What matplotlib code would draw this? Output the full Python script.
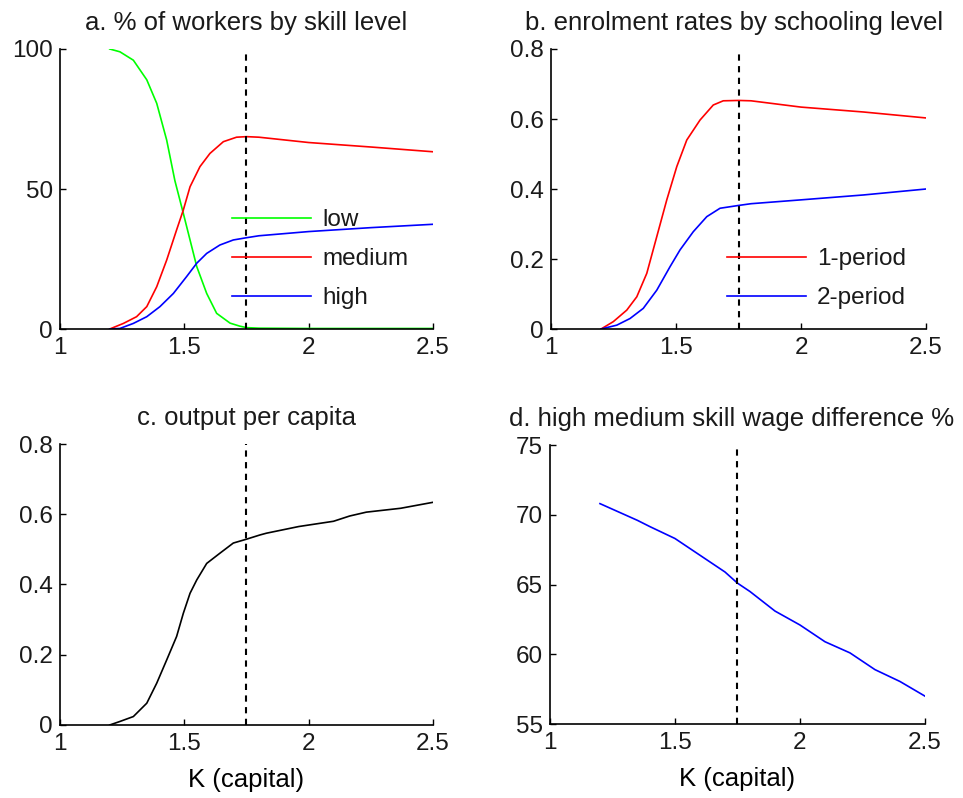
import matplotlib
matplotlib.use("Agg")
import matplotlib.pyplot as plt

plt.rcParams["font.family"] = ["Liberation Sans", "DejaVu Sans"]
plt.rcParams["text.color"] = "#1a1a1a"
plt.rcParams["xtick.labelcolor"] = "#1a1a1a"
plt.rcParams["ytick.labelcolor"] = "#1a1a1a"

# ---------------------------------------------------------------------------
# Data
# ---------------------------------------------------------------------------
K_THRESHOLD = 1.75

# a. % of workers by skill level
k_low = [1.2, 1.241, 1.295, 1.349, 1.389, 1.429, 1.462, 1.496, 1.523, 1.55,
         1.59, 1.63, 1.684, 1.724, 1.75, 1.8, 2.0, 2.25, 2.5]
low = [100.0, 99.0, 96.0, 89.0, 80.6, 67.5, 53.0, 41.3, 31.8, 22.3,
       12.7, 5.6, 2.1, 1.0, 0.5, 0.3, 0.2, 0.2, 0.2]
k_med = [1.2, 1.255, 1.308, 1.349, 1.389, 1.429, 1.469, 1.496, 1.523, 1.563,
         1.603, 1.657, 1.71, 1.75, 1.8, 2.0, 2.25, 2.5]
medium = [0.0, 2.0, 4.4, 8.0, 15.1, 24.6, 35.4, 42.5, 50.8, 58.0,
          62.7, 66.9, 68.5, 68.7, 68.5, 66.6, 65.0, 63.3]
k_high = [1.2, 1.241, 1.295, 1.349, 1.402, 1.456, 1.509, 1.55, 1.59, 1.643,
          1.697, 1.75, 1.8, 2.0, 2.25, 2.5]
high = [0.0, 0.2, 2.0, 4.4, 8.0, 12.7, 18.7, 23.5, 27.0, 30.0,
        31.8, 32.6, 33.3, 34.8, 36.2, 37.4]

# b. enrolment rates by schooling level
k_one = [1.2, 1.249, 1.303, 1.343, 1.383, 1.423, 1.463, 1.503, 1.543, 1.596,
         1.649, 1.689, 1.75, 1.8, 2.0, 2.25, 2.5]
one_period = [0.0, 0.021, 0.054, 0.092, 0.159, 0.264, 0.369, 0.464, 0.54,
              0.597, 0.64, 0.652, 0.653, 0.652, 0.634, 0.62, 0.603]
k_two = [1.2, 1.263, 1.316, 1.369, 1.423, 1.476, 1.516, 1.569, 1.623, 1.676,
         1.75, 1.8, 2.0, 2.25, 2.5]
two_period = [0.0, 0.011, 0.03, 0.059, 0.111, 0.178, 0.226, 0.278, 0.321,
              0.345, 0.353, 0.358, 0.369, 0.383, 0.40]

# c. output per capita
k_c = [1.2, 1.241, 1.295, 1.349, 1.389, 1.429, 1.469, 1.496, 1.523, 1.55,
       1.59, 1.643, 1.697, 1.75, 1.804, 1.83, 1.96, 2.1, 2.165, 2.232, 2.37,
       2.5]
output = [0.0, 0.01, 0.024, 0.062, 0.119, 0.185, 0.252, 0.318, 0.375, 0.413,
          0.46, 0.489, 0.518, 0.529, 0.541, 0.546, 0.565, 0.58, 0.595, 0.606,
          0.617, 0.634]

# d. high / medium skill wage difference (%)
k_d = [1.2, 1.3, 1.35, 1.4, 1.5, 1.55, 1.6, 1.7, 1.75, 1.8, 1.9, 2.0, 2.1,
       2.2, 2.3, 2.4, 2.5]
wage_diff = [70.8, 70.0, 69.6, 69.15, 68.3, 67.7, 67.1, 65.9, 65.1, 64.5,
             63.1, 62.1, 60.9, 60.1, 58.9, 58.05, 57.0]

GREEN = "#00ff00"
RED = "#ff0000"
BLUE = "#0000ff"

TICK_FS = 17.5
TITLE_FS = 18.5


def style_axes(ax, ylim, yticks):
    ax.set_xlim(1, 2.5)
    ax.set_xticks([1, 1.5, 2, 2.5])
    ax.set_xticklabels(["1", "1.5", "2", "2.5"])
    ax.set_ylim(*ylim)
    ax.set_yticks(yticks)
    for side in ("top", "right"):
        ax.spines[side].set_visible(False)
    for side in ("left", "bottom"):
        ax.spines[side].set_linewidth(1.2)
    ax.tick_params(direction="in", length=4, width=1.0, labelsize=TICK_FS)
    ax.tick_params(axis="x", pad=6)
    ax.tick_params(axis="y", pad=5)
    ax.axvline(K_THRESHOLD, color="black", linewidth=1.5,
               linestyle=(0, (3, 2.6)), zorder=3)


def add_legend(ax, x0, y0):
    ax.legend(loc="lower left", bbox_to_anchor=(x0, y0), frameon=False,
              fontsize=TICK_FS, handlelength=3.25, handletextpad=0.45,
              labelspacing=0.7, borderpad=0.2)


fig = plt.figure(figsize=(9.63, 7.98), dpi=100, facecolor="white")
ax_a = fig.add_axes([0.0623, 0.5877, 0.3873, 0.3509])
ax_b = fig.add_axes([0.5722, 0.5877, 0.3894, 0.3509])
ax_c = fig.add_axes([0.0623, 0.0915, 0.3873, 0.3521])
ax_d = fig.add_axes([0.5711, 0.0927, 0.3894, 0.3496])

# a
ax_a.plot(k_low, low, color=GREEN, linewidth=1.2, label="low")
ax_a.plot(k_med, medium, color=RED, linewidth=1.2, label="medium")
ax_a.plot(k_high, high, color=BLUE, linewidth=1.2, label="high")
style_axes(ax_a, (0, 100), [0, 50, 100])
ax_a.set_title("a. % of workers by skill level", fontsize=TITLE_FS, pad=14)
add_legend(ax_a, 0.416, 0.009)

# b
ax_b.plot(k_one, one_period, color=RED, linewidth=1.2, label="1-period")
ax_b.plot(k_two, two_period, color=BLUE, linewidth=1.2, label="2-period")
style_axes(ax_b, (0, 0.8), [0, 0.2, 0.4, 0.6, 0.8])
ax_b.set_yticklabels(["0", "0.2", "0.4", "0.6", "0.8"])
ax_b.set_title("b. enrolment rates by schooling level", fontsize=TITLE_FS,
               pad=14, x=0.488)
add_legend(ax_b, 0.424, 0.009)

# c
ax_c.plot(k_c, output, color="black", linewidth=1.2)
style_axes(ax_c, (0, 0.8), [0, 0.2, 0.4, 0.6, 0.8])
ax_c.set_yticklabels(["0", "0.2", "0.4", "0.6", "0.8"])
ax_c.set_title("c. output per capita", fontsize=TITLE_FS, pad=14)
ax_c.set_xlabel("K (capital)", fontsize=TITLE_FS, labelpad=9)

# d
ax_d.plot(k_d, wage_diff, color=BLUE, linewidth=1.2)
style_axes(ax_d, (55, 75), [55, 60, 65, 70, 75])
ax_d.set_title("d. high medium skill wage difference %", fontsize=TITLE_FS,
               pad=14, x=0.484)
ax_d.set_xlabel("K (capital)", fontsize=TITLE_FS, labelpad=9)

fig.savefig("out.png", dpi=100, facecolor="white")
